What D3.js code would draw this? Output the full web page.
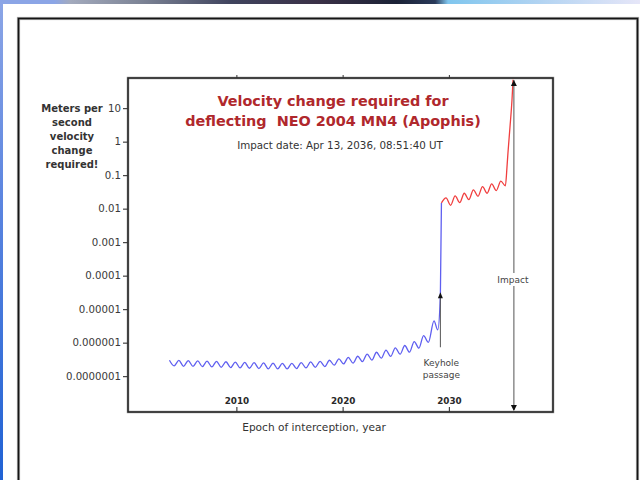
<!DOCTYPE html>
<html>
<head>
<meta charset="utf-8">
<script src="https://cdn.jsdelivr.net/npm/d3@7"></script>
<style>
  html, body { margin: 0; padding: 0; background: #fff; }
  svg { display: block; font-family: "DejaVu Sans", sans-serif; }
  .keep-space { white-space: pre; }
</style>
</head>
<body>
<svg id="chart" width="640" height="480"></svg>
<script>
// Required delta-v (m/s) before the 2029 keyhole passage
const blueYears = [
  2003.70, 2004.14, 2004.59, 2005.03, 2005.47, 2005.92, 2006.36, 2006.80, 2007.24, 2007.69,
  2008.13, 2008.57, 2009.02, 2009.46, 2009.90, 2010.35, 2010.79, 2011.23, 2011.67, 2012.12,
  2012.56, 2013.00, 2013.45, 2013.89, 2014.33, 2014.78, 2015.22, 2015.66, 2016.10, 2016.55,
  2016.99, 2017.43, 2017.88, 2018.32, 2018.76, 2019.21, 2019.65, 2020.09, 2020.53, 2020.98,
  2021.42, 2021.86, 2022.31, 2022.75, 2023.19, 2023.64, 2024.08, 2024.52, 2024.96, 2025.41,
  2025.85, 2026.29, 2026.74, 2027.18, 2027.62, 2028.07, 2028.60, 2028.95, 2029.20, 2029.30
];
const blueValues = [
  2.98e-7, 2.02e-7, 2.95e-7, 1.97e-7, 2.92e-7, 1.95e-7, 2.85e-7, 1.93e-7, 2.82e-7, 1.88e-7,
  2.78e-7, 1.84e-7, 2.69e-7, 1.80e-7, 2.63e-7, 1.76e-7, 2.57e-7, 1.72e-7, 2.52e-7, 1.68e-7,
  2.48e-7, 1.66e-7, 2.45e-7, 1.64e-7, 2.42e-7, 1.64e-7, 2.42e-7, 1.68e-7, 2.54e-7, 1.76e-7,
  2.66e-7, 1.84e-7, 2.78e-7, 1.93e-7, 2.98e-7, 2.12e-7, 3.27e-7, 2.32e-7, 3.63e-7, 2.45e-7,
  3.93e-7, 2.72e-7, 4.57e-7, 3.02e-7, 5.17e-7, 3.43e-7, 6.02e-7, 3.89e-7, 6.99e-7, 4.52e-7,
  8.21e-7, 5.19e-7, 1.08e-6, 6.84e-7, 1.62e-6, 1.02e-6, 4.47e-6, 2.40e-6, 2.6e-5, 1.48e-2
];

// Required delta-v (m/s) after the keyhole passage, up to impact
const redYears = [
  2029.30, 2029.73, 2030.16, 2030.59, 2031.02, 2031.45, 2031.88, 2032.31, 2032.74, 2033.17,
  2033.60, 2034.03, 2034.46, 2034.89, 2035.32, 2035.47, 2035.56, 2035.75, 2035.94, 2036.04
];
const redValues = [
  1.48e-2, 2.10e-2, 1.26e-2, 2.40e-2, 1.51e-2, 2.88e-2, 1.86e-2, 3.63e-2, 2.34e-2, 4.57e-2,
  2.88e-2, 5.50e-2, 3.47e-2, 6.60e-2, 4.80e-2, 1.75e-1, 4.6e-1, 2.7, 17.5, 70
];

const yTickValues = [10, 1, 0.1, 0.01, 0.001, 0.0001, 0.00001, 0.000001, 0.0000001];
const yTickLabels = ["10", "1", "0.1", "0.01", "0.001", "0.0001", "0.00001", "0.000001", "0.0000001"];
const xTickValues = [2010, 2020, 2030];
const xTickLabels = ["2010", "2020", "2030"];

const keyholeEpoch = 2029.20;
const keyholeValue = 2.6e-5;
const impactEpoch = 2036.12;

const titleLines = ["Velocity change required for", "deflecting  NEO 2004 MN4 (Apophis)"];
const subtitle = "Impact date: Apr 13, 2036, 08:51:40 UT";
const yTitleLines = ["Meters per", "second", "velocity", "change", "required!"];
const xTitle = "Epoch of interception, year";

const svg = d3.select("#chart");
const defs = svg.append("defs");

// ---- slide surroundings ----
const topGrad = defs.append("linearGradient").attr("id", "topStrip");
[[0, "#8ba5e6"], [0.085, "#8ba5e6"], [0.11, "#a3aabd"], [0.22, "#7d8496"], [0.36, "#40445e"],
 [0.5, "#3a3046"], [0.62, "#1b2236"], [0.68, "#2a3a5a"], [0.70, "#80c6ee"], [0.85, "#b4d4f2"], [1, "#e6e6f8"]]
  .forEach(([o, c]) => topGrad.append("stop").attr("offset", o).attr("stop-color", c));
const leftGrad = defs.append("linearGradient").attr("id", "leftStrip")
  .attr("x1", 0).attr("y1", 0).attr("x2", 0).attr("y2", 1);
[[0, "#8ba5e6"], [0.4, "#5d86e0"], [1, "#2062d4"]]
  .forEach(([o, c]) => leftGrad.append("stop").attr("offset", o).attr("stop-color", c));

svg.append("rect").attr("x", 0).attr("y", 0).attr("width", 640).attr("height", 4).attr("fill", "url(#topStrip)");
svg.append("rect").attr("x", 0).attr("y", 4).attr("width", 3).attr("height", 476).attr("fill", "url(#leftStrip)");

// slide frame
svg.append("rect").attr("x", 18.5).attr("y", 18.5).attr("width", 619).attr("height", 480)
  .attr("fill", "#fff").attr("stroke", "#a8a8a8").attr("stroke-width", 3.2);
svg.append("rect").attr("x", 18.5).attr("y", 18.5).attr("width", 619).attr("height", 480)
  .attr("fill", "none").attr("stroke", "#151515").attr("stroke-width", 1.6);

// ---- chart ----
const plot = { left: 128, right: 553, top: 78, bottom: 412 };

const x = d3.scaleLinear().domain([1999.8, 2039.8]).range([plot.left, plot.right]);
const y = d3.scaleLog().domain([Math.pow(10, -8.07), Math.pow(10, 1.9)]).range([plot.bottom, plot.top]);

defs.append("clipPath").attr("id", "plotClip").append("rect")
  .attr("x", plot.left).attr("y", plot.top)
  .attr("width", plot.right - plot.left).attr("height", plot.bottom - plot.top);

// plot box
svg.append("rect").attr("x", plot.left).attr("y", plot.top)
  .attr("width", plot.right - plot.left).attr("height", plot.bottom - plot.top)
  .attr("fill", "none").attr("stroke", "#808080").attr("stroke-width", 2.4);
svg.append("rect").attr("x", plot.left).attr("y", plot.top)
  .attr("width", plot.right - plot.left).attr("height", plot.bottom - plot.top)
  .attr("fill", "none").attr("stroke", "#1a1a1a").attr("stroke-width", 1.2);

// y axis (log decades)
const yAxis = svg.append("g").attr("transform", `translate(${plot.left},0)`)
  .call(d3.axisLeft(y).tickValues(yTickValues)
    .tickFormat((d, i) => yTickLabels[i]).tickSize(5).tickPadding(2));
yAxis.select(".domain").remove();
yAxis.selectAll("line").attr("stroke", "#333").attr("stroke-width", 1.1);
yAxis.selectAll("text").attr("font-family", "DejaVu Sans").attr("font-size", 10.2).attr("fill", "#3a3a3a");

// x axis: ticks point inward, labels sit inside the plot
const xAxis = svg.append("g").attr("transform", `translate(0,${plot.bottom})`)
  .call(d3.axisTop(x).tickValues(xTickValues)
    .tickFormat((d, i) => xTickLabels[i]).tickSize(5).tickPadding(3));
xAxis.select(".domain").remove();
xAxis.selectAll("line").attr("stroke", "#333").attr("stroke-width", 1.1);
xAxis.selectAll("text").attr("font-family", "DejaVu Sans").attr("font-size", 8.8)
  .attr("font-weight", "bold").attr("fill", "#2a2a2a");

const xTopAxis = svg.append("g").attr("transform", `translate(0,${plot.top})`)
  .call(d3.axisTop(x).tickValues(xTickValues).tickFormat("").tickSize(3));
xTopAxis.select(".domain").remove();
xTopAxis.selectAll("line").attr("stroke", "#333");

// curves
const line = d3.line()
  .x(d => x(d[0]))
  .y(d => y(d[1]))
  .curve(d3.curveMonotoneX);

const curves = svg.append("g").attr("clip-path", "url(#plotClip)");
curves.append("path")
  .datum(blueYears.map((t, i) => [t, blueValues[i]]))
  .attr("d", line).attr("fill", "none")
  .attr("stroke", "#5f5ff0").attr("stroke-width", 1.3);
curves.append("path")
  .datum(redYears.map((t, i) => [t, redValues[i]]))
  .attr("d", line).attr("fill", "none")
  .attr("stroke", "#f03e3e").attr("stroke-width", 1.3);

// keyhole passage marker
const kx = x(keyholeEpoch), ky = y(keyholeValue);
svg.append("line").attr("x1", kx).attr("x2", kx).attr("y1", ky).attr("y2", ky + 52)
  .attr("stroke", "#555").attr("stroke-width", 1);
svg.append("path").attr("d", `M${kx},${ky - 3}L${kx - 2.5},${ky + 3}L${kx + 2.5},${ky + 3}Z`).attr("fill", "#111");
svg.append("text").attr("x", kx + 1).attr("y", ky + 71).attr("text-anchor", "middle")
  .attr("font-size", 9).attr("fill", "#444").text("Keyhole");
svg.append("text").attr("x", kx + 1).attr("y", ky + 83).attr("text-anchor", "middle")
  .attr("font-size", 9).attr("fill", "#444").text("passage");

// impact marker
const ix = x(impactEpoch);
svg.append("line").attr("x1", ix).attr("x2", ix).attr("y1", plot.top + 2).attr("y2", plot.bottom - 2)
  .attr("stroke", "#555").attr("stroke-width", 1);
svg.append("path").attr("d", `M${ix},${plot.top + 2}L${ix - 3},${plot.top + 8}L${ix + 3},${plot.top + 8}Z`).attr("fill", "#111");
svg.append("path").attr("d", `M${ix},${plot.bottom - 1}L${ix - 3},${plot.bottom - 7}L${ix + 3},${plot.bottom - 7}Z`).attr("fill", "#111");
svg.append("rect").attr("x", ix - 17).attr("y", 273).attr("width", 34).attr("height", 13).attr("fill", "#fff");
svg.append("text").attr("x", ix - 1).attr("y", 283).attr("text-anchor", "middle")
  .attr("font-size", 9).attr("fill", "#444").text("Impact");

// titles
svg.append("g").selectAll("text").data(titleLines).join("text")
  .attr("class", "keep-space")
  .attr("x", 333).attr("y", (d, i) => 105.5 + i * 20)
  .attr("text-anchor", "middle").attr("font-size", 14.4).attr("font-weight", "bold")
  .attr("fill", "#b0282c").text(d => d);
svg.append("text").attr("x", 340).attr("y", 148.5).attr("text-anchor", "middle")
  .attr("font-size", 10.3).attr("fill", "#333").text(subtitle);

svg.append("g").selectAll("text").data(yTitleLines).join("text")
  .attr("x", 72).attr("y", (d, i) => 111.5 + i * 14.2)
  .attr("text-anchor", "middle").attr("font-size", 10).attr("font-weight", "bold")
  .attr("fill", "#333").text(d => d);

svg.append("text").attr("x", 314).attr("y", 431).attr("text-anchor", "middle")
  .attr("font-size", 10.6).attr("fill", "#333").text(xTitle);
</script>
</body>
</html>
